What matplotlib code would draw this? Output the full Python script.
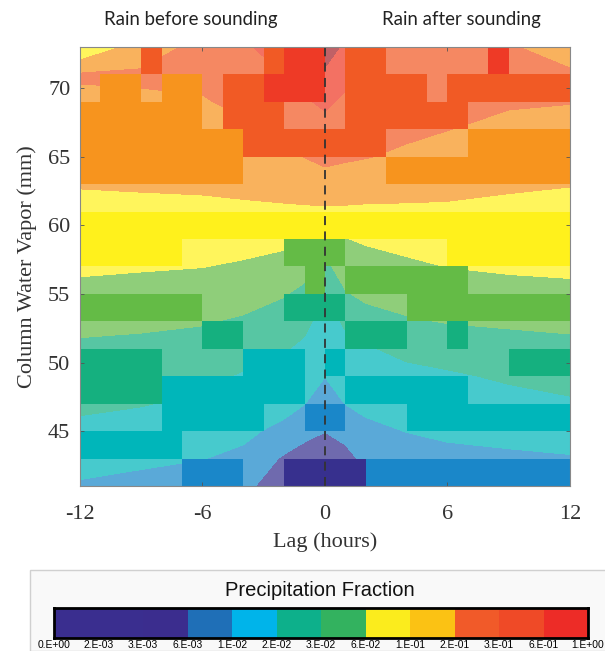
import numpy as np
import matplotlib
matplotlib.use("Agg")
import matplotlib.pyplot as plt
from matplotlib.colors import ListedColormap, to_rgb
from matplotlib.patches import Rectangle

plt.rcParams['axes.unicode_minus'] = False

# colour bins (precipitation fraction classes)
cb_labels = ['0.E+00', '2.E-03', '3.E-03', '6.E-03', '1.E-02', '2.E-02', '3.E-02',
             '6.E-02', '1.E-01', '2.E-01', '3.E-01', '6.E-01', '1.E+00']
cb_colors = ['#3a2e8f', '#3a2e8f', '#3b2d8e', '#1f6fb7', '#00b4ea', '#0db08b',
             '#33b25f', '#fbec1d', '#fbc214', '#f15a29', '#ef4a27', '#ed2c27']
plot_colors = ['#37308e', '#37308e', '#37308e', '#1a87c9', '#00b6ba', '#15b07f',
               '#64bb46', '#fff11c', '#f7941e', '#f15a25', '#ee3a26', '#a8232b']

# smooth field (class index) on lag x CWV grid
contour_lags = [-12, -9, -6, -4, -2, -1, 0, 1, 2, 4, 6, 9, 12]
contour_cwv = [41, 43, 45, 47, 49, 51, 53, 55, 57, 59, 61, 63, 65, 67, 69, 71, 73]
level_by_lag = [
    [3.9, 4.33, 4.78, 5.17, 5.5, 5.83, 6.25, 6.75, 7.15, 7.45, 7.76, 8.05, 8.3, 8.56, 8.81, 9.1, 7.0],
    [3.73, 4.18, 4.62, 5.05, 5.41, 5.77, 6.17, 6.64, 7.09, 7.43, 7.78, 8.09, 8.35, 8.61, 8.87, 9.13, 8.5],
    [3.6, 4.02, 4.4, 4.8, 5.21, 5.64, 6.07, 6.53, 7.02, 7.4, 7.8, 8.13, 8.4, 8.67, 8.93, 9.2, 9.3],
    [3.45, 3.82, 4.18, 4.55, 4.91, 5.38, 5.88, 6.38, 6.88, 7.36, 7.83, 8.21, 8.52, 8.84, 9.2, 9.6, 9.9],
    [1.95, 2.86, 3.77, 4.29, 4.67, 5.07, 5.56, 6.06, 6.65, 7.24, 7.85, 8.33, 8.78, 9.2, 9.6, 10.02, 10.3],
    [1.86, 2.57, 3.29, 4.02, 4.4, 4.8, 5.25, 5.75, 6.36, 7.08, 7.85, 8.44, 9.02, 9.44, 9.89, 10.5, 11.2],
    [2.0, 2.5, 3.02, 3.5, 4.02, 4.29, 4.57, 4.86, 5.77, 6.81, 7.84, 8.63, 9.22, 9.67, 10.17, 10.83, 11.5],
    [2.0, 2.67, 3.33, 4.02, 4.36, 4.71, 5.15, 5.92, 6.46, 6.97, 7.83, 8.55, 9.12, 9.47, 9.82, 10.3, 10.8],
    [2.74, 3.26, 3.79, 4.21, 4.56, 4.91, 5.6, 6.21, 6.64, 7.11, 7.82, 8.45, 9.04, 9.44, 9.84, 10.1, 10.4],
    [3.25, 3.62, 4.02, 4.38, 4.75, 5.23, 5.9, 6.38, 6.82, 7.32, 7.84, 8.34, 8.83, 9.19, 9.47, 9.76, 9.6],
    [3.42, 3.78, 4.15, 4.51, 4.87, 5.42, 6.05, 6.52, 7.02, 7.43, 7.85, 8.25, 8.62, 9.02, 9.35, 9.7, 9.8],
    [3.44, 3.85, 4.27, 4.69, 5.13, 5.63, 6.14, 6.68, 7.13, 7.46, 7.79, 8.11, 8.44, 8.76, 9.1, 9.4, 9.2],
    [3.45, 3.93, 4.4, 4.88, 5.32, 5.74, 6.22, 6.78, 7.17, 7.46, 7.74, 8.03, 8.37, 8.7, 9.03, 9.3, 8.0],
]

# binned field: 1 h lag bins x 2 mm CWV bins, '.' = empty bin
lag_edges = list(range(-12, 13))
cwv_edges = list(range(41, 74, 2))
block_rows = [
    ".....333..00003333333333",  # 41-43
    "44444...................",  # 43-45
    "....44444..33...44444444",  # 45-47
    "55554444444..444444.....",  # 47-49
    "5555....444.4........555",  # 49-51
    "......55.....555..5.....",  # 51-53
    "666666....555...66666666",  # 53-55
    "...........6.666666.....",  # 55-57
    "77777.....666.....777777",  # 57-59
    "777777777777777777777777",  # 59-61
    "........................",  # 61-63
    "88888888.......888888888",  # 63-65
    "888888889999999....88888",  # 65-67
    "888888.999...999999.....",  # 67-69
    ".88.88.99aaa.9999.999999",  # 69-71
    "...9.....9aa.99.....a...",  # 71-73
]

codes = {'a': 10, 'b': 11}
blocks = np.full((len(block_rows), 24), np.nan)
for i, row in enumerate(block_rows):
    row = row.ljust(24, '.')[:24]
    for j, c in enumerate(row):
        if c != '.':
            blocks[i, j] = codes[c] if c in codes else int(c)
blocks = np.ma.masked_invalid(blocks + 0.5)

Z = np.array(level_by_lag).T

# washed-out version of the colours for the smooth field
light_colors = [tuple(1 - 0.72 * (1 - v) for v in to_rgb(c)) for c in plot_colors]

fig = plt.figure(figsize=(6.05, 6.51), dpi=100)
ax = fig.add_axes([0.1322, 0.2535, 0.8099, 0.6743])

cmap = ListedColormap(plot_colors)
ax.contourf(contour_lags, contour_cwv, Z, levels=np.arange(13), colors=light_colors)
ax.pcolormesh(lag_edges, cwv_edges, blocks, cmap=cmap, vmin=0, vmax=12)
ax.axvline(0, color='#333333', ls=(0, (5, 3.5)), lw=1.3)

ax.set_xlim(-12, 12)
ax.set_ylim(41, 73)
ax.set_xticks([-12, -6, 0, 6, 12])
ax.set_yticks([45, 50, 55, 60, 65, 70])
serif = 'Liberation Serif'
for lab in ax.get_xticklabels() + ax.get_yticklabels():
    lab.set_family(serif)
ax.tick_params(direction='in', length=3, width=0.6, color='#555555', labelsize=16,
               labelcolor='#333333', top=True, right=True)
ax.tick_params(axis='x', pad=14)
ax.tick_params(axis='y', pad=7)
for s in ax.spines.values():
    s.set_color('#888888')
    s.set_linewidth(0.8)
ax.set_xlabel('Lag (hours)', family=serif, fontsize=16, color='#333333', labelpad=6)
ax.set_ylabel('Column Water Vapor (mm)', family=serif, fontsize=16, color='#333333', labelpad=8)

fig.text(191 / 605, 1 - 19 / 651, 'Rain before sounding', family='Lato', fontsize=13.4,
         color='#222222', ha='center', va='center')
fig.text(461 / 605, 1 - 19 / 651, 'Rain after sounding', family='Lato', fontsize=13.4,
         color='#222222', ha='center', va='center')

# colour bar panel
fig.patches.append(Rectangle((30 / 605, 0), 580 / 605, 81 / 651, transform=fig.transFigure,
                             facecolor='#f9f9f9', edgecolor='#d0d0d0', lw=1, zorder=-10))
fig.text(320 / 605, 1 - 590 / 651, 'Precipitation Fraction', family='Liberation Sans',
         fontsize=14.5, color='#111111', ha='center', va='center')
cax = fig.add_axes([54 / 605, 1 - 638 / 651, 534 / 605, 30 / 651])
cax.pcolormesh(np.arange(13), [0, 1], [np.arange(12) + 0.5], cmap=ListedColormap(cb_colors),
               vmin=0, vmax=12)
cax.set_xlim(0, 12)
cax.set_ylim(0, 1)
cax.set_yticks([])
cax.set_xticks(np.arange(13))
cax.set_xticklabels(cb_labels, family='Liberation Sans', fontsize=7.4)
cax.tick_params(axis='x', length=0, pad=1.5)
for s in cax.spines.values():
    s.set_linewidth(2)
    s.set_color('black')

fig.savefig('out.png', dpi=100)
